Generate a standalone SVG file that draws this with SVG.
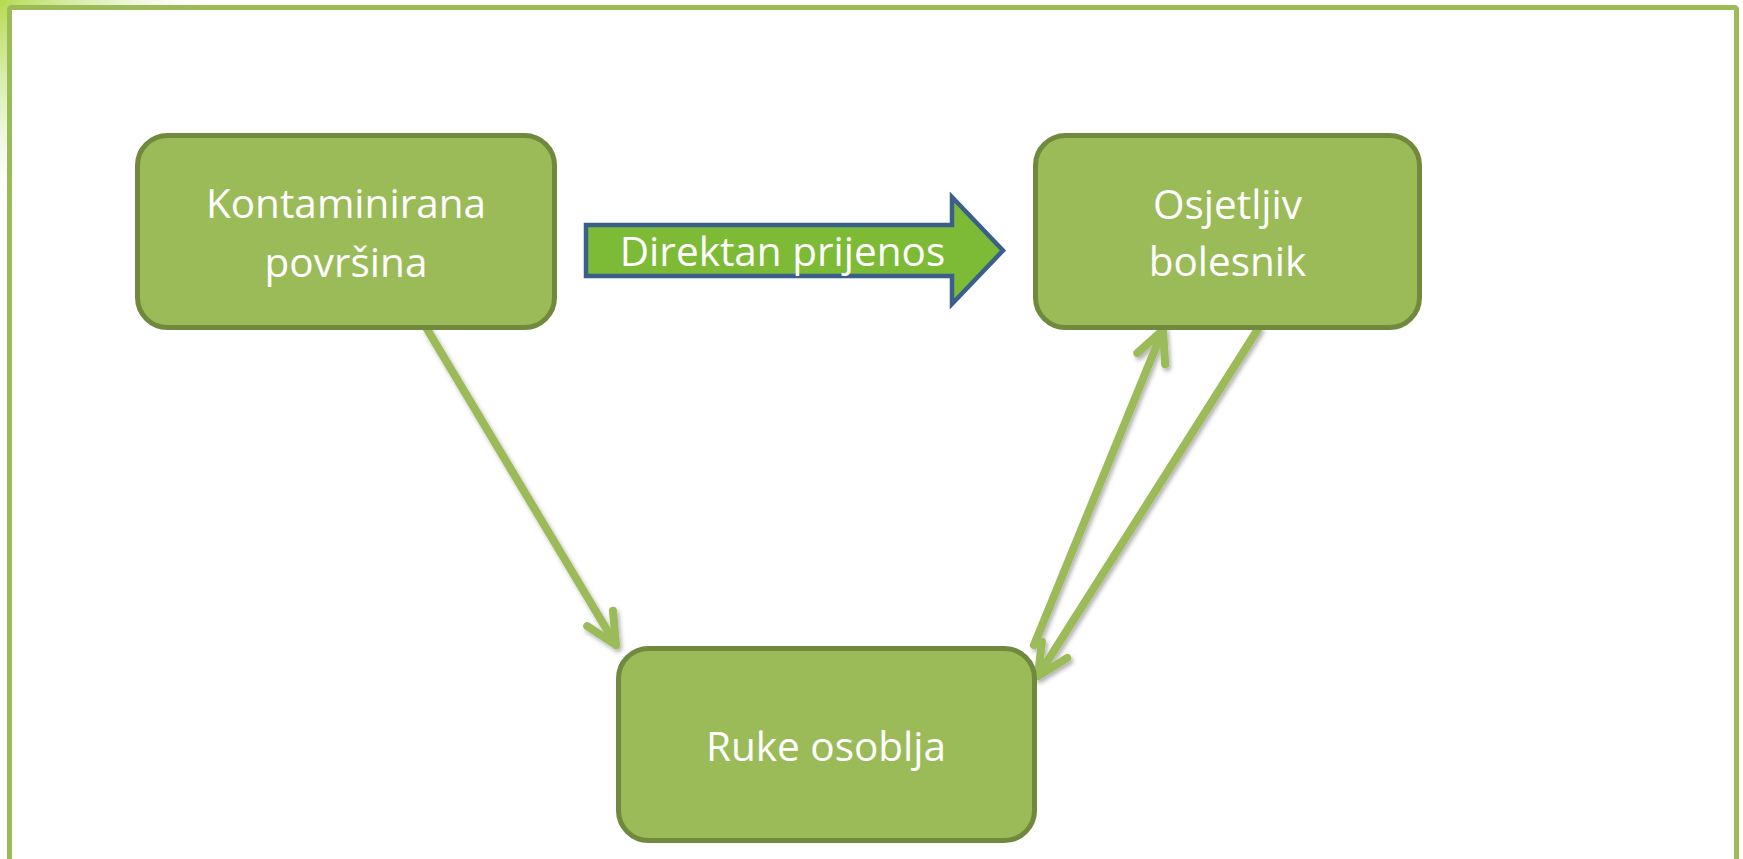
<svg xmlns="http://www.w3.org/2000/svg" width="1743" height="859" viewBox="0 0 1743 859">
<style>
.node rect{fill:#9BBB59;stroke:#71893F;stroke-width:5}
.lbl{font-family:"Open Sans","Noto Sans","Liberation Sans",sans-serif;font-size:40.5px;fill:#FFFFFF;text-anchor:middle}
.conn{fill:none;stroke:#9BBB59;stroke-width:8;stroke-linecap:round;stroke-linejoin:round}
</style>
<defs>
<radialGradient id="glow" cx="0" cy="0" r="220" gradientUnits="userSpaceOnUse">
<stop offset="0" stop-color="#B5DA4F" stop-opacity="1"/>
<stop offset="0.5" stop-color="#CFE89A" stop-opacity="0.55"/>
<stop offset="1" stop-color="#FFFFFF" stop-opacity="0"/>
</radialGradient>
<filter id="sh" x="-20%" y="-20%" width="140%" height="140%">
<feDropShadow dx="2" dy="3" stdDeviation="2" flood-color="#000" flood-opacity="0.3"/>
</filter>
<marker id="ah" markerUnits="userSpaceOnUse" viewBox="-40 -25 50 50" refX="0" refY="0" markerWidth="50" markerHeight="50" orient="auto" overflow="visible">
<path d="M-31,-15 L0,0 L-31,15" fill="none" stroke="#9BBB59" stroke-width="8" stroke-linecap="round" stroke-linejoin="round"/>
</marker>
</defs>
<rect x="0" y="0" width="1743" height="859" fill="#FFFFFF"/>
<rect x="0" y="0" width="280" height="280" fill="url(#glow)"/>
<rect x="9.5" y="7.5" width="1727" height="900" fill="#FFFFFF" stroke="#9BBB59" stroke-width="5" rx="2"/>

<g id="connectors" filter="url(#sh)">
<line class="conn" x1="427" y1="329" x2="616" y2="645" marker-end="url(#ah)"/>
<line class="conn" x1="1034" y1="645" x2="1163" y2="330" marker-end="url(#ah)"/>
<line class="conn" x1="1258" y1="329" x2="1038" y2="676" marker-end="url(#ah)"/>
</g>

<g id="node-kontaminirana" class="node">
<rect x="137.5" y="135.5" width="417" height="192" rx="30"/>
<text class="lbl" x="346" y="218">Kontaminirana</text>
<text class="lbl" x="346" y="277">površina</text>
</g>

<g id="node-osjetljiv" class="node">
<rect x="1035.5" y="135.5" width="384" height="192" rx="30"/>
<text class="lbl" x="1227.5" y="219">Osjetljiv</text>
<text class="lbl" x="1227.5" y="276">bolesnik</text>
</g>

<g id="node-ruke" class="node">
<rect x="618.5" y="648.5" width="416" height="192" rx="30"/>
<text class="lbl" x="826" y="761">Ruke osoblja</text>
</g>

<g id="direktan-prijenos">
<polygon points="586,225 952,225 952,197 1003,250.5 952,304 952,276 586,276" fill="#7DBB36" stroke="#3A5F8B" stroke-width="4.5"/>
<text class="lbl" x="782.5" y="266">Direktan prijenos</text>
</g>
</svg>
